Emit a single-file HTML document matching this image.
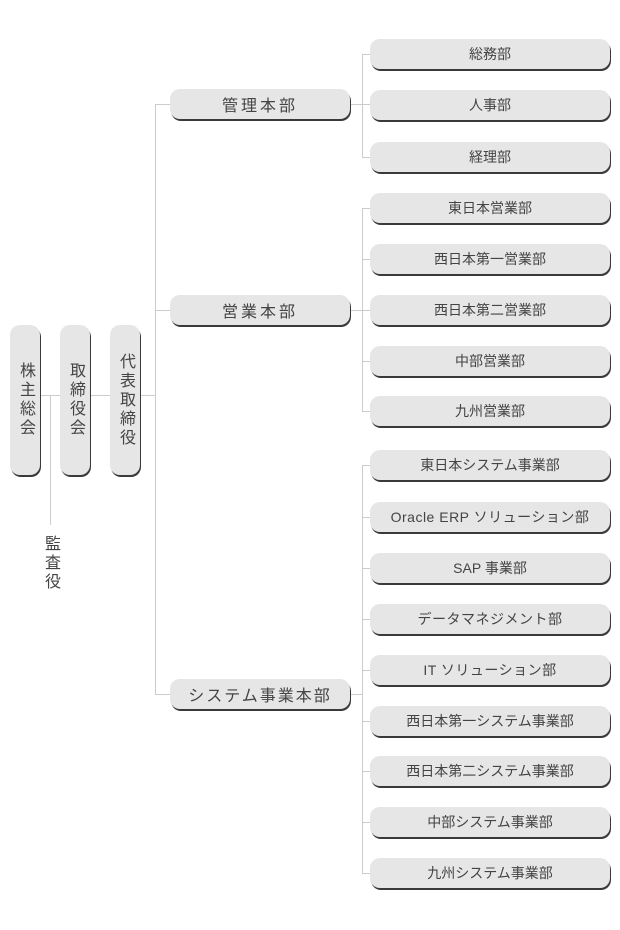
<!DOCTYPE html>
<html><head><meta charset="utf-8"><style>
body{margin:0;width:620px;height:930px;background:#fff;position:relative;overflow:hidden;font-family:"Liberation Sans","Noto Sans CJK JP",sans-serif;color:#444}
.b{position:absolute;background:#e6e6e6;border-radius:10px;box-shadow:1px 2px 0 #3a3a3a;display:flex;align-items:center;justify-content:center;box-sizing:border-box}
.r{left:370px;width:240px;height:30px;font-size:14px}
.m{left:170px;width:180px;height:30px;font-size:16px;letter-spacing:3px}
.v{top:325px;width:30px;height:150px;font-size:16px;writing-mode:vertical-rl;align-items:center;justify-content:center;line-height:30px;letter-spacing:3px}
.l{position:absolute;background:#ccc}
</style></head><body>
<!-- lines -->
<div class="l" style="left:40px;top:395px;width:115px;height:1px"></div>
<div class="l" style="left:50px;top:395px;width:1px;height:130px"></div>
<div class="l" style="left:155px;top:104px;width:1px;height:590px"></div>
<div class="l" style="left:155px;top:104px;width:15px;height:1px"></div>
<div class="l" style="left:155px;top:310px;width:15px;height:1px"></div>
<div class="l" style="left:155px;top:694px;width:15px;height:1px"></div>
<div class="l" style="left:350px;top:104px;width:20px;height:1px"></div>
<div class="l" style="left:350px;top:310px;width:12px;height:1px"></div>
<div class="l" style="left:350px;top:694px;width:12px;height:1px"></div>
<div class="l" style="left:362px;top:54px;width:1px;height:103px"></div>
<div class="l" style="left:362px;top:208px;width:1px;height:203px"></div>
<div class="l" style="left:362px;top:465px;width:1px;height:408px"></div>
<div class="l" style="left:362px;top:54px;width:8px;height:1px"></div>
<div class="l" style="left:362px;top:157px;width:8px;height:1px"></div>
<div class="l" style="left:362px;top:208px;width:8px;height:1px"></div>
<div class="l" style="left:362px;top:259px;width:8px;height:1px"></div>
<div class="l" style="left:362px;top:310px;width:8px;height:1px"></div>
<div class="l" style="left:362px;top:361px;width:8px;height:1px"></div>
<div class="l" style="left:362px;top:411px;width:8px;height:1px"></div>
<div class="l" style="left:362px;top:465px;width:8px;height:1px"></div>
<div class="l" style="left:362px;top:517px;width:8px;height:1px"></div>
<div class="l" style="left:362px;top:568px;width:8px;height:1px"></div>
<div class="l" style="left:362px;top:619px;width:8px;height:1px"></div>
<div class="l" style="left:362px;top:670px;width:8px;height:1px"></div>
<div class="l" style="left:362px;top:721px;width:8px;height:1px"></div>
<div class="l" style="left:362px;top:771px;width:8px;height:1px"></div>
<div class="l" style="left:362px;top:822px;width:8px;height:1px"></div>
<div class="l" style="left:362px;top:873px;width:8px;height:1px"></div>
<!-- left vertical -->
<div class="b v" style="left:10px">株主総会</div>
<div class="b v" style="left:60px">取締役会</div>
<div class="b v" style="left:110px">代表取締役</div>
<div style="position:absolute;left:35px;top:535px;width:30px;writing-mode:vertical-rl;font-size:16px;line-height:30px;letter-spacing:3px">監査役</div>
<!-- mid -->
<div class="b m" style="top:89px">管理本部</div>
<div class="b m" style="top:295px">営業本部</div>
<div class="b m" style="top:679px;letter-spacing:2px">システム事業本部</div>
<!-- right -->
<div class="b r" style="top:39px">総務部</div>
<div class="b r" style="top:90px">人事部</div>
<div class="b r" style="top:142px">経理部</div>
<div class="b r" style="top:193px">東日本営業部</div>
<div class="b r" style="top:244px">西日本第一営業部</div>
<div class="b r" style="top:295px">西日本第二営業部</div>
<div class="b r" style="top:346px">中部営業部</div>
<div class="b r" style="top:396px">九州営業部</div>
<div class="b r" style="top:450px">東日本システム事業部</div>
<div class="b r" style="top:502px;letter-spacing:0.5px">Oracle ERP ソリューション部</div>
<div class="b r" style="top:553px">SAP 事業部</div>
<div class="b r" style="top:604px;letter-spacing:0.5px">データマネジメント部</div>
<div class="b r" style="top:655px;letter-spacing:0.5px">IT ソリューション部</div>
<div class="b r" style="top:706px">西日本第一システム事業部</div>
<div class="b r" style="top:756px">西日本第二システム事業部</div>
<div class="b r" style="top:807px">中部システム事業部</div>
<div class="b r" style="top:858px">九州システム事業部</div>
</body></html>
